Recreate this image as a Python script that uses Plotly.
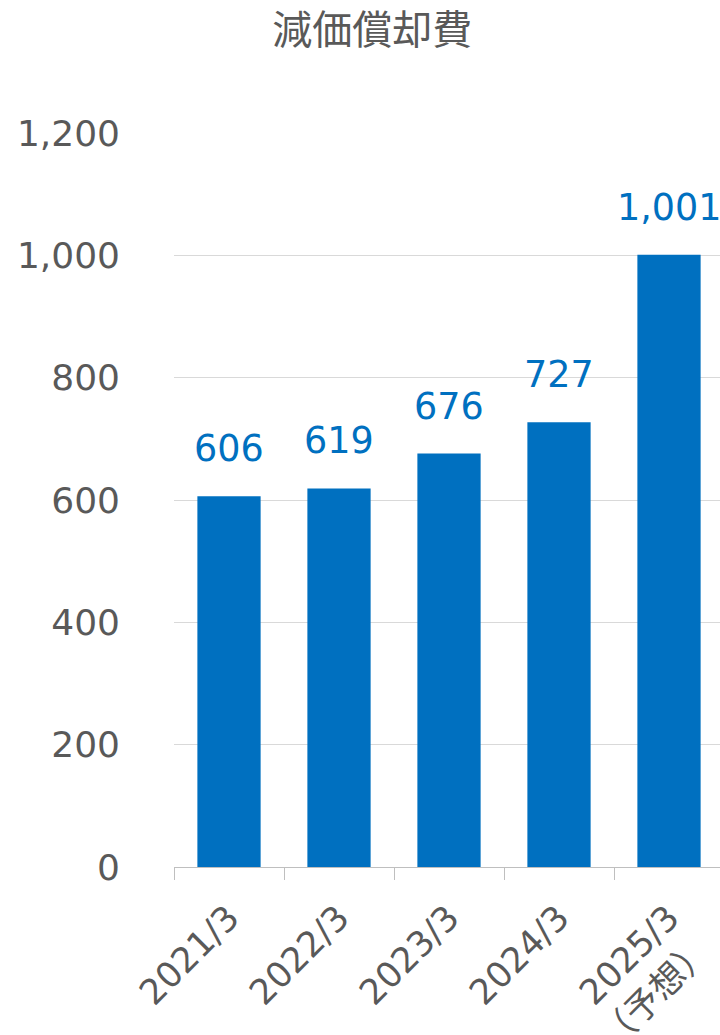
import plotly.graph_objects as go

# 減価償却費 (fiscal years ending March; 2025/3 is a forecast)
periods = ["2021/3", "2022/3", "2023/3", "2024/3", "2025/3<br>（予想）"]
depreciation = [606, 619, 676, 727, 1001]
y_ticks = [0, 200, 400, 600, 800, 1000, 1200]

BLUE = "#0070C0"
GRAY_TEXT = "#595959"
FONT = "DejaVu Sans, Noto Sans CJK JP, sans-serif"

fig = go.Figure()
fig.add_trace(go.Bar(
    x=periods,
    y=depreciation,
    marker=dict(color=BLUE, line=dict(width=0)),
    width=0.575,
    hoverinfo="skip",
))

# value labels above each bar
for p, v in zip(periods, depreciation):
    fig.add_annotation(
        x=p, y=v, text=f"{v:,}", showarrow=False,
        yanchor="bottom", yshift=24,
        font=dict(family=FONT, size=36.5, color=BLUE),
    )

fig.update_layout(
    width=720, height=1035,
    margin=dict(l=174, r=0, t=133, b=168),
    paper_bgcolor="white", plot_bgcolor="white",
    showlegend=False,
    title=dict(
        text="減価償却費", x=0.517, xanchor="center", y=0.971, yanchor="middle",
        font=dict(family="Noto Sans CJK JP, sans-serif", size=40, color=GRAY_TEXT),
    ),
    font=dict(family=FONT, color=GRAY_TEXT),
)

fig.update_yaxes(
    range=[0, 1200], tickvals=y_ticks, tickformat=",d",
    showgrid=True, gridcolor="#D9D9D9", gridwidth=1.3,
    zeroline=False, showline=False, ticks="",
    ticklabelstandoff=53, automargin=False,
    tickfont=dict(family=FONT, size=36, color=GRAY_TEXT),
)

fig.update_xaxes(
    type="category",
    range=[-0.5, 4.4636],
    tickson="boundaries", ticks="outside", ticklen=12, tickcolor="#BFBFBF", tickwidth=1.3,
    showline=True, linecolor="#BFBFBF", linewidth=1.3,
    showgrid=False,
    tickangle=-45,
    ticklabelstandoff=15, automargin=False,
    tickfont=dict(family=FONT, size=35, color=GRAY_TEXT),
)

fig.write_html("out.html")
